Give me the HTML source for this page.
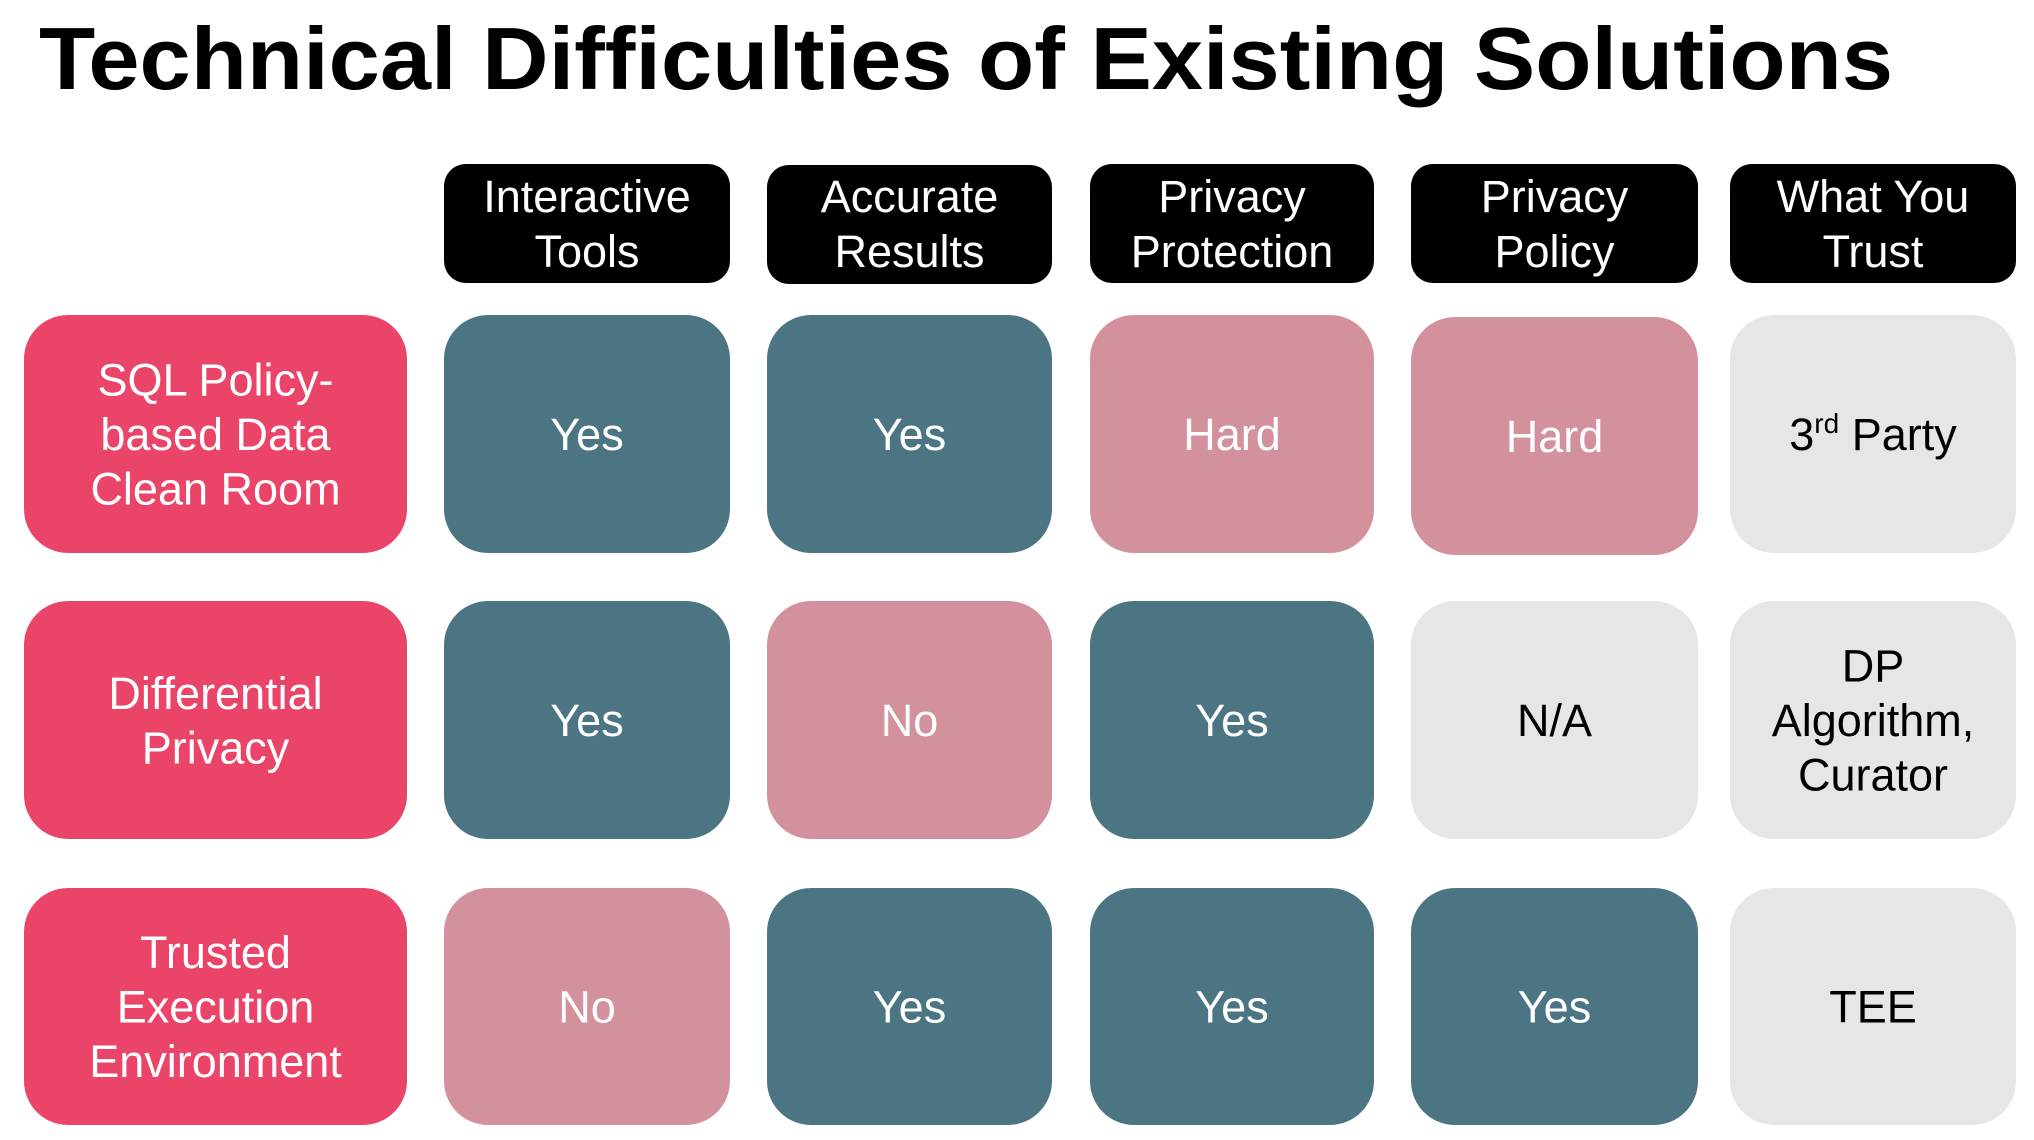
<!DOCTYPE html>
<html>
<head>
<meta charset="utf-8">
<style>
  html, body { margin: 0; padding: 0; background: #ffffff; }
  svg { display: block; }
  text { font-family: "Liberation Sans", "DejaVu Sans", sans-serif; }
</style>
</head>
<body>
<svg width="2034" height="1140" viewBox="0 0 2034 1140" xmlns="http://www.w3.org/2000/svg">
  <rect x="0" y="0" width="2034" height="1140" fill="#ffffff"/>

  <!-- Title -->
  <text x="39" y="89" font-size="88" font-weight="bold" fill="#000" textLength="1854" lengthAdjust="spacingAndGlyphs">Technical Difficulties of Existing Solutions</text>

  <!-- Header boxes -->
  <g fill="#000000">
    <rect x="444" y="164" width="286" height="119" rx="22" ry="22"/>
    <rect x="767" y="165" width="285" height="119" rx="22" ry="22"/>
    <rect x="1090" y="164" width="284" height="119" rx="22" ry="22"/>
    <rect x="1411" y="164" width="287" height="119" rx="22" ry="22"/>
    <rect x="1730" y="164" width="286" height="119" rx="22" ry="22"/>
  </g>
  <g fill="#ffffff" font-size="45" text-anchor="middle">
    <text x="587" y="212">Interactive</text>
    <text x="587" y="267">Tools</text>
    <text x="909.5" y="212">Accurate</text>
    <text x="909.5" y="267">Results</text>
    <text x="1232" y="212">Privacy</text>
    <text x="1232" y="267">Protection</text>
    <text x="1554.5" y="212">Privacy</text>
    <text x="1554.5" y="267">Policy</text>
    <text x="1873" y="212">What You</text>
    <text x="1873" y="267">Trust</text>
  </g>

  <!-- Row label boxes -->
  <g fill="#EA4468">
    <rect x="24" y="315" width="383" height="238" rx="44" ry="44"/>
    <rect x="24" y="601" width="383" height="238" rx="44" ry="44"/>
    <rect x="24" y="888" width="383" height="237" rx="44" ry="44"/>
  </g>
  <g fill="#ffffff" font-size="45" text-anchor="middle">
    <text x="215.5" y="395.5">SQL Policy-</text>
    <text x="215.5" y="450">based Data</text>
    <text x="215.5" y="504.5">Clean Room</text>

    <text x="215.5" y="708.75">Differential</text>
    <text x="215.5" y="763.25">Privacy</text>

    <text x="215.5" y="968">Trusted</text>
    <text x="215.5" y="1022.5">Execution</text>
    <text x="215.5" y="1077">Environment</text>
  </g>

  <!-- Row 1 -->
  <rect x="444" y="315" width="286" height="238" rx="44" ry="44" fill="#4B7582"/>
  <rect x="767" y="315" width="285" height="238" rx="44" ry="44" fill="#4B7582"/>
  <rect x="1090" y="315" width="284" height="238" rx="44" ry="44" fill="#D3909D"/>
  <rect x="1411" y="317" width="287" height="238" rx="44" ry="44" fill="#D3909D"/>
  <rect x="1730" y="315" width="286" height="238" rx="44" ry="44" fill="#E6E6E6"/>
  <g fill="#ffffff" font-size="45" text-anchor="middle">
    <text x="587" y="450">Yes</text>
    <text x="909.5" y="450">Yes</text>
    <text x="1232" y="450">Hard</text>
    <text x="1554.5" y="452">Hard</text>
  </g>
  <text x="1873" y="450" font-size="45" text-anchor="middle" fill="#000"><tspan>3</tspan><tspan font-size="28" dy="-17">rd</tspan><tspan dy="17"> Party</tspan></text>

  <!-- Row 2 -->
  <rect x="444" y="601" width="286" height="238" rx="44" ry="44" fill="#4B7582"/>
  <rect x="767" y="601" width="285" height="238" rx="44" ry="44" fill="#D3909D"/>
  <rect x="1090" y="601" width="284" height="238" rx="44" ry="44" fill="#4B7582"/>
  <rect x="1411" y="601" width="287" height="238" rx="44" ry="44" fill="#E6E6E6"/>
  <rect x="1730" y="601" width="286" height="238" rx="44" ry="44" fill="#E6E6E6"/>
  <g fill="#ffffff" font-size="45" text-anchor="middle">
    <text x="587" y="736">Yes</text>
    <text x="909.5" y="736">No</text>
    <text x="1232" y="736">Yes</text>
  </g>
  <g fill="#000000" font-size="45" text-anchor="middle">
    <text x="1554.5" y="736">N/A</text>
    <text x="1873" y="681.5">DP</text>
    <text x="1873" y="736">Algorithm,</text>
    <text x="1873" y="790.5">Curator</text>
  </g>

  <!-- Row 3 -->
  <rect x="444" y="888" width="286" height="237" rx="44" ry="44" fill="#D3909D"/>
  <rect x="767" y="888" width="285" height="237" rx="44" ry="44" fill="#4B7582"/>
  <rect x="1090" y="888" width="284" height="237" rx="44" ry="44" fill="#4B7582"/>
  <rect x="1411" y="888" width="287" height="237" rx="44" ry="44" fill="#4B7582"/>
  <rect x="1730" y="888" width="286" height="237" rx="44" ry="44" fill="#E6E6E6"/>
  <g fill="#ffffff" font-size="45" text-anchor="middle">
    <text x="587" y="1022.5">No</text>
    <text x="909.5" y="1022.5">Yes</text>
    <text x="1232" y="1022.5">Yes</text>
    <text x="1554.5" y="1022.5">Yes</text>
  </g>
  <text x="1873" y="1022.5" font-size="45" text-anchor="middle" fill="#000">TEE</text>
</svg>
</body>
</html>
